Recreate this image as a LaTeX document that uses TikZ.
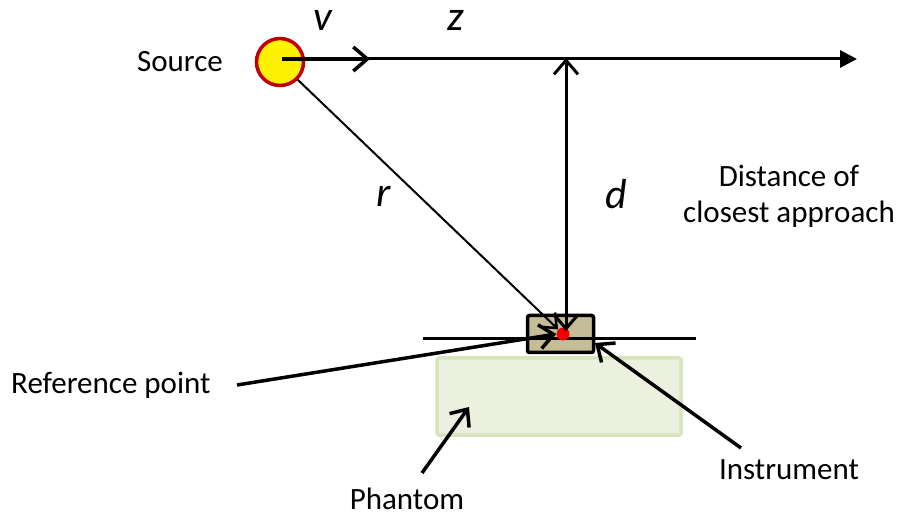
\documentclass[tikz,border=0pt]{standalone}
\usepackage{fontspec}
\setmainfont{Carlito}
\usetikzlibrary{arrows.meta}
\begin{document}
\begin{tikzpicture}[x=1pt,y=-1pt,
  lbl/.style={font=\fontsize{31}{36}\selectfont, inner sep=0pt, align=center},
  var/.style={font=\fontsize{42}{48}\selectfont\itshape, inner sep=0pt},
  ann/.style={line width=3.5pt, -{Straight Barb[length=14pt,width=24pt,line width=3.5pt]}},
]
\useasboundingbox (0,0) rectangle (902,518);
% phantom
\node[draw={rgb,255:red,215;green,228;blue,189}, line width=3.5pt, fill={rgb,255:red,235;green,241;blue,222}, rounded corners=1.5pt,
      minimum width=244pt, minimum height=77pt, inner sep=0pt] (phantom) at (559,396.5) {};
% horizontal line under instrument
\coordinate (hl) at (423,339);
\coordinate (hr) at (696,339);
% instrument
\node[draw, line width=3.5pt, fill={rgb,255:red,196;green,189;blue,151}, rounded corners=2pt,
      minimum width=66pt, minimum height=37pt, inner sep=0pt] (instr) at (560.5,334) {};
\draw[line width=3pt] (hl) -- (hr);
% reference point
\node[circle, fill=red!95!black, minimum size=13pt, inner sep=0pt] (ref) at (563,334) {};
% source
\node[circle, draw={rgb,255:red,192;green,0;blue,0}, line width=3.5pt, fill=yellow,
      minimum size=47pt, inner sep=0pt] (src) at (280,62) {};
% main z line
\coordinate (s0) at (282,59);
\coordinate (vtip) at (370,59);
\coordinate (zend) at (857,59);
\coordinate (top) at (566,58);
\coordinate (dbot) at (566,331);
\draw[line width=3pt, -{Triangle[length=17pt,width=17pt]}] (s0) -- (zend);
\draw[line width=4.5pt, -{Straight Barb[length=14pt,width=24pt,line width=3.5pt]}] (s0) -- (vtip);
% d arrow
\draw[line width=3pt, {Straight Barb[length=14pt,width=24pt,line width=3pt]}-{Straight Barb[length=14pt,width=24pt,line width=3pt]}] (top) -- (dbot);
% r line
\draw[line width=2pt, -{Straight Barb[length=12pt,width=20pt,line width=2.5pt]}] (src.-45) -- (ref);
% annotation arrows
\node[lbl, anchor=west] (reflbl) at (11,385) {Reference point};
\coordinate (refs) at (237,385);
\draw[ann] (refs) -- (ref.west);
\node[lbl] (instlbl) at (789,470) {Instrument};
\coordinate (insts) at (741,448);
\draw[ann] (insts) -- (595,343);
\node[lbl] (phlbl) at (407,499) {Phantom};
\coordinate (phs) at (422,473);
\draw[ann] (phs) -- (469,407);
% labels
\node[lbl] (srclbl) at (180,62) {Source};
\node[var] (vlbl) at (323,20) {v};
\node[var] (zlbl) at (456,20) {z};
\node[var] (rlbl) at (384,196) {r};
\node[var] (dlbl) at (616,194) {d};
\node[lbl] (dist) at (789,196) {Distance of\\closest approach};
\end{tikzpicture}
\end{document}
